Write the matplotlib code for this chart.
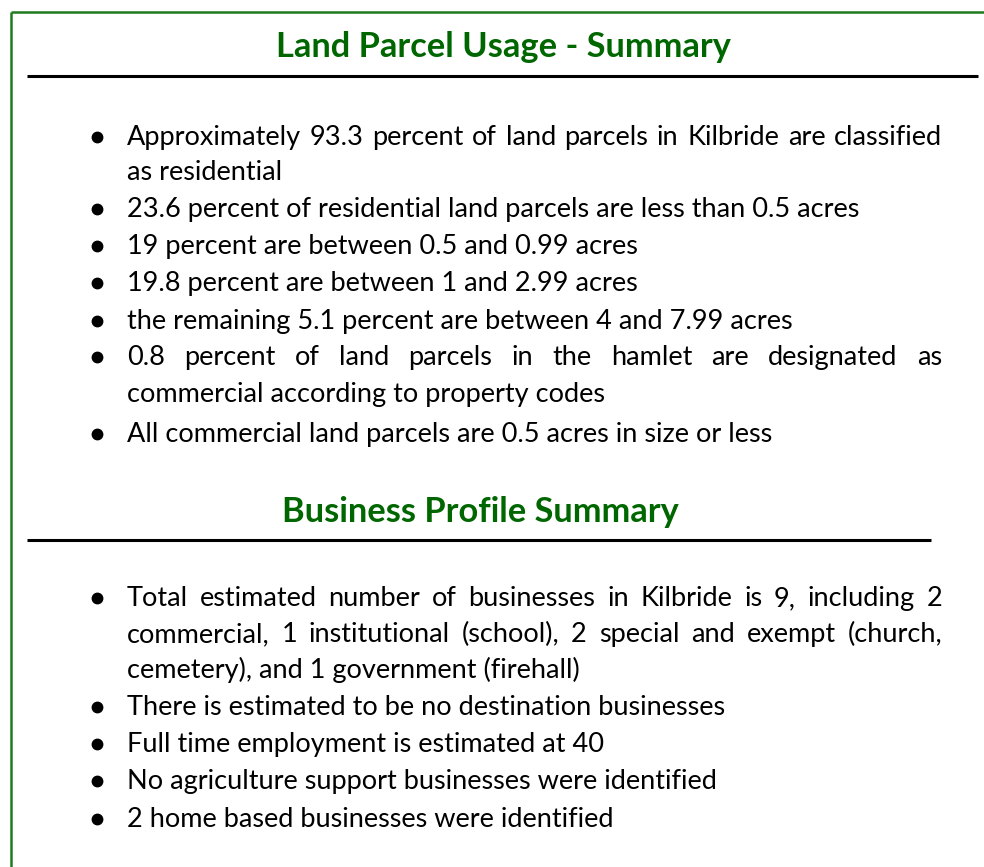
import matplotlib
matplotlib.use("Agg")
import matplotlib.pyplot as plt

# ---- content ----
title1 = "Land Parcel Usage - Summary"
title2 = "Business Profile Summary"

# each bullet: list of (line text, justified?)
land_bullets = [
    [("Approximately 93.3 percent of land parcels in Kilbride are classified", True),
     ("as residential", False)],
    [("23.6 percent of residential land parcels are less than 0.5 acres", False)],
    [("19 percent are between 0.5 and 0.99 acres", False)],
    [("19.8 percent are between 1 and 2.99 acres", False)],
    [("the remaining 5.1 percent are between 4 and 7.99 acres", False)],
    [("0.8 percent of land parcels in the hamlet are designated as", True),
     ("commercial according to property codes", False)],
    [("All commercial land parcels are 0.5 acres in size or less", False)],
]
business_bullets = [
    [("Total estimated number of businesses in Kilbride is 9, including 2", True),
     ("commercial, 1 institutional (school), 2 special and exempt (church,", True),
     ("cemetery), and 1 government (firehall)", False)],
    [("There is estimated to be no destination businesses", False)],
    [("Full time employment is estimated at 40", False)],
    [("No agriculture support businesses were identified", False)],
    [("2 home based businesses were identified", False)],
]

# ---- layout (pixels) ----
W, H = 984, 867
FONT = "Lato"
GREEN = "#006600"
BORDER = "#1f7a1f"
land_baselines = [145, 180, 217, 254, 291, 329, 365, 402, 442]
bus_baselines = [606, 642, 678, 715, 752, 789, 827]
TEXT_X = 127
BULLET_X = 97
RIGHT_X = 942

fig = plt.figure(figsize=(W / 100, H / 100), dpi=100)
ax = fig.add_axes([0, 0, 1, 1])
ax.set_xlim(0, W)
ax.set_ylim(H, 0)
ax.axis("off")
renderer = fig.canvas.get_renderer()


def width_of(s, size, weight="normal"):
    t = ax.text(0, 0, s, fontsize=size, family=FONT, fontweight=weight)
    bb = t.get_window_extent(renderer)
    t.remove()
    return bb.width


# fit body font size to reference line width
ref_w = 861 - 127
body_size = 10 * ref_w / width_of("23.6 percent of residential land parcels are less than 0.5 acres", 10)
title_size = 10 * 455 / width_of(title1, 10, "bold")

# border
ax.plot([11, W], [12, 12], color=BORDER, lw=1.8, solid_capstyle="butt")
ax.plot([11, 11], [12, H], color=BORDER, lw=1.8, solid_capstyle="butt")

# titles and rules
ax.text(503, 47, title1, fontsize=title_size, family=FONT, fontweight="bold",
        color=GREEN, ha="center", va="center")
ax.plot([27, 978], [76, 76], color="black", lw=2.2, solid_capstyle="butt")
ax.text(480, 512, title2, fontsize=title_size, family=FONT, fontweight="bold",
        color=GREEN, ha="center", va="center")
ax.plot([27, 931], [540, 540], color="black", lw=2.2, solid_capstyle="butt")


def draw_line(text, y, justified):
    if not justified:
        ax.text(TEXT_X, y, text, fontsize=body_size, family=FONT, color="black",
                ha="left", va="baseline")
        return
    words = text.split(" ")
    widths = [width_of(w, body_size) for w in words]
    gap = (RIGHT_X - TEXT_X - sum(widths)) / (len(words) - 1)
    x = TEXT_X
    for w, wd in zip(words, widths):
        ax.text(x, y, w, fontsize=body_size, family=FONT, color="black",
                ha="left", va="baseline")
        x += wd + gap


def draw_section(bullets, baselines):
    i = 0
    for b in bullets:
        ax.plot(BULLET_X, baselines[i] - 8, "o", color="black", ms=7.5)
        for text, just in b:
            draw_line(text, baselines[i], just)
            i += 1


draw_section(land_bullets, land_baselines)
draw_section(business_bullets, bus_baselines)

fig.savefig("out.png", dpi=100, facecolor="white")
